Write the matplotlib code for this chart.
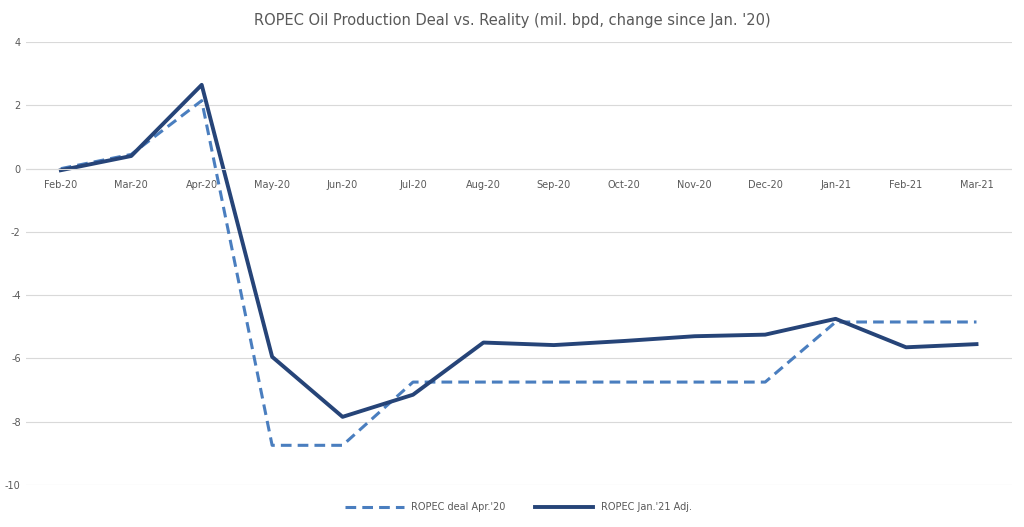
import matplotlib
matplotlib.use("Agg")
import matplotlib.pyplot as plt
plt.rcParams["axes.unicode_minus"] = False

months = ["Feb-20","Mar-20","Apr-20","May-20","Jun-20","Jul-20","Aug-20","Sep-20","Oct-20","Nov-20","Dec-20","Jan-21","Feb-21","Mar-21"]
deal = [0.0, 0.45, 2.15, -8.75, -8.75, -6.75, -6.75, -6.75, -6.75, -6.75, -6.75, -4.85, -4.85, -4.85]
actual = [-0.05, 0.4, 2.65, -5.95, -7.85, -7.15, -5.5, -5.58, -5.45, -5.3, -5.25, -4.75, -5.65, -5.55]
yticks = [4, 2, 0, -2, -4, -6, -8, -10]

fig = plt.figure(figsize=(10.24, 5.27), dpi=100)
ax = fig.add_axes([0.025, 0.08, 0.963, 0.84])
x = list(range(len(months)))
ax.plot(x, deal, color="#4a7ebf", lw=2.2, ls=(0, (3.5, 2)), label="ROPEC deal Apr.'20")
ax.plot(x, actual, color="#264478", lw=2.8, label="ROPEC Jan.'21 Adj.")
ax.set_xlim(-0.5, len(months) - 0.5)
ax.set_ylim(-10, 4)
ax.set_yticks(yticks)
ax.tick_params(axis="y", labelsize=7, colors="#595959", length=0)
ax.grid(axis="y", color="#d9d9d9", lw=0.8)
ax.set_axisbelow(True)
for s in ax.spines.values():
    s.set_visible(False)
ax.set_xticks([])
ax.axhline(0, color="#d9d9d9", lw=0.8)
for xi, m in zip(x, months):
    ax.text(xi, -0.35, m, ha="center", va="top", fontsize=7, color="#595959")
fig.suptitle("ROPEC Oil Production Deal vs. Reality (mil. bpd, change since Jan. '20)",
             y=0.975, fontsize=10.5, color="#595959")
ax.legend(loc="upper center", bbox_to_anchor=(0.5, -0.02), ncol=2, frameon=False,
          fontsize=7, labelcolor="#595959", handlelength=6, columnspacing=3)
fig.savefig("out.png", dpi=100)
